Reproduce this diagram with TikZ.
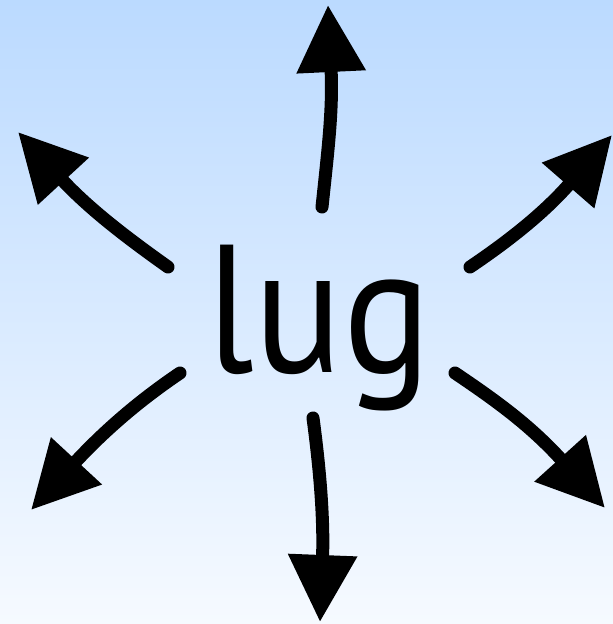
\documentclass[tikz,border=0pt]{standalone}
\usepackage{fontspec}
\newfontfamily\wordfont[FakeStretch=0.9]{PT Sans}
\usetikzlibrary{arrows.meta}
\definecolor{topblue}{RGB}{187,218,255}
\definecolor{botblue}{RGB}{246,250,255}
\begin{document}
\begin{tikzpicture}[x=1pt,y=-1pt,
  arr/.style={line width=13pt,line cap=round,-{Triangle[length=67pt,width=66pt]}},
  word/.style={inner sep=0pt,font=\wordfont\fontsize{182}{182}\selectfont}]
\shade[top color=topblue,bottom color=botblue] (0,0) rectangle (613,624);
\useasboundingbox (0,0) rectangle (613,624);
\node[word,anchor=base] (w) at (319,372) {lug};
% start and tip points
\coordinate (s1) at (322,207); \coordinate (t1) at (328,5);
\coordinate (s2) at (168,267); \coordinate (t2) at (18,132);
\coordinate (s3) at (470,267); \coordinate (t3) at (612,135);
\coordinate (s4) at (180,373); \coordinate (t4) at (31,510);
\coordinate (s5) at (313,418); \coordinate (t5) at (320,622);
\coordinate (s6) at (455,373); \coordinate (t6) at (605,508);
\draw[arr] (s1) .. controls (328,150) and (333,110) .. (t1);
\draw[arr] (s2) .. controls (130,240) and (90,210) .. (t2);
\draw[arr] (s3) .. controls (510,240) and (545,212) .. (t3);
\draw[arr] (s4) .. controls (140,400) and (105,430) .. (t4);
\draw[arr] (s5) .. controls (320,470) and (324,520) .. (t5);
\draw[arr] (s6) .. controls (495,400) and (530,425) .. (t6);
\end{tikzpicture}
\end{document}
